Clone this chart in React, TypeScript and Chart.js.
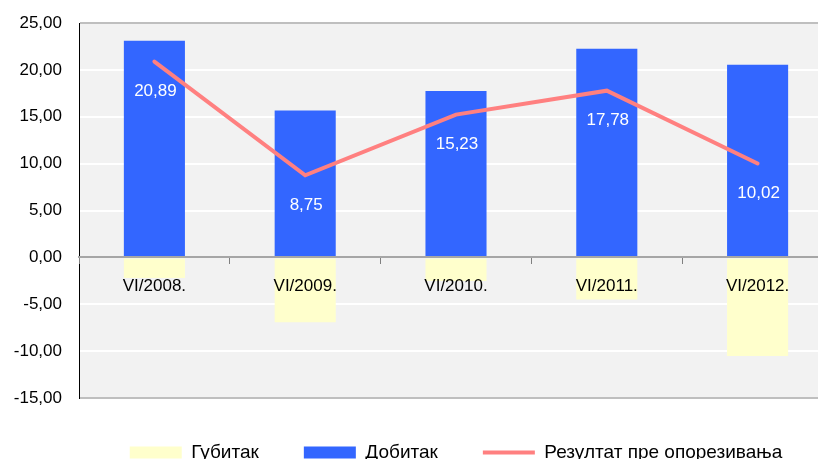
import React, { useEffect, useRef } from 'react';
import { Chart, registerables } from 'chart.js';

Chart.register(...registerables);

const categories = ['VI/2008.', 'VI/2009.', 'VI/2010.', 'VI/2011.', 'VI/2012.'];
const gubitak = [-2.21, -6.91, -2.53, -4.48, -10.52];
const dobitak = [23.1, 15.66, 17.76, 22.26, 20.54];
const rezultat = [20.89, 8.75, 15.23, 17.78, 10.02];
const seriesNames = ['Губитак', 'Добитак', 'Резултат пре опорезивања'];
const yMin = -15;
const yMax = 25;
const yStep = 5;

const FONT = "'Liberation Sans', Arial, sans-serif";
const fmt = (v: number) => v.toFixed(2).replace('.', ',');

const plotBg = {
  id: 'plotBg',
  beforeDraw(chart: any) {
    const { ctx, chartArea: a } = chart;
    ctx.save();
    ctx.fillStyle = '#F2F2F2';
    ctx.fillRect(a.left, a.top, a.right - a.left, a.bottom - a.top);
    ctx.restore();
  },
};

const valueLabels = {
  id: 'valueLabels',
  afterDatasetsDraw(chart: any) {
    const { ctx } = chart;
    const meta = chart.getDatasetMeta(2);
    const data = chart.data.datasets[2].data as number[];
    ctx.save();
    ctx.fillStyle = '#FFFFFF';
    ctx.font = `17px ${FONT}`;
    ctx.textAlign = 'center';
    ctx.textBaseline = 'middle';
    meta.data.forEach((pt: any, i: number) => {
      ctx.fillText(fmt(data[i]), pt.x + 1, pt.y + 30);
    });
    ctx.restore();
  },
};

export default function App() {
  const ref = useRef<HTMLCanvasElement>(null);
  useEffect(() => {
    if (!ref.current) return;
    const chart = new Chart(ref.current, {
      type: 'bar',
      data: {
        labels: categories,
        datasets: [
          {
            type: 'bar',
            label: seriesNames[0],
            data: gubitak,
            backgroundColor: '#FFFFCC',
            borderWidth: 0,
            stack: 'bars',
            pointStyle: 'rect',
            categoryPercentage: 0.405,
            barPercentage: 1,
          } as any,
          {
            type: 'bar',
            label: seriesNames[1],
            data: dobitak,
            backgroundColor: '#3366FF',
            borderWidth: 0,
            stack: 'bars',
            pointStyle: 'rect',
            categoryPercentage: 0.405,
            barPercentage: 1,
          } as any,
          {
            type: 'line',
            label: seriesNames[2],
            data: rezultat,
            borderColor: '#FF8080',
            backgroundColor: '#FF8080',
            borderWidth: 4,
            pointRadius: 0,
            pointHoverRadius: 0,
            pointStyle: 'line',
            tension: 0,
            stack: 'line',
            order: -1,
            borderCapStyle: 'round',
          } as any,
        ],
      },
      options: {
        responsive: false,
        animation: false,
        devicePixelRatio: 1,
        layout: { padding: { left: 0, top: 23, right: 71, bottom: 0 } },
        plugins: {
          tooltip: { enabled: false },
          legend: {
            position: 'bottom',
            fullSize: false,
            labels: {
              usePointStyle: true,
              pointStyleWidth: 52,
              boxHeight: 12,
              padding: 45,
              color: '#000000',
              font: { family: FONT, size: 19 },
              sort: (a: any, b: any) => a.datasetIndex - b.datasetIndex,
            },
          },
        },
        scales: {
          x: {
            stacked: true,
            position: { y: 0 } as any,
            grid: {
              drawOnChartArea: false,
              drawTicks: true,
              tickLength: 6,
              offset: true,
              tickColor: '#808080',
              tickWidth: 1,
              z: 1,
            },
            border: { display: true, color: '#A6A6A6', width: 2, z: 1 },
            ticks: {
              color: '#000000',
              font: { family: FONT, size: 17 },
              padding: 13,
              maxRotation: 0,
              z: 1,
            },
          },
          y: {
            stacked: true,
            min: yMin,
            max: yMax,
            afterFit: (s: any) => {
              s.width = 79;
            },
            grid: {
              drawTicks: true,
              tickLength: 17,
              tickColor: 'rgba(0,0,0,0)',
              lineWidth: 2,
              color: (c: any) => {
                const v = c.tick ? c.tick.value : null;
                if (v === yMax || v === yMin) return '#BFBFBF';
                if (v === 0) return 'rgba(0,0,0,0)';
                return '#FFFFFF';
              },
            },
            border: { display: true, color: '#000000', width: 1 },
            ticks: {
              stepSize: yStep,
              padding: 0,
              color: '#000000',
              font: { family: FONT, size: 17 },
              callback: (v: any) => fmt(Number(v)),
            },
          },
        },
      },
      plugins: [plotBg, valueLabels],
    });
    return () => chart.destroy();
  }, []);

  return (
    <div
      style={{
        position: 'fixed',
        left: 0,
        top: 0,
        width: 818,
        height: 459,
        overflow: 'hidden',
        background: '#FFFFFF',
      }}
    >
      <canvas ref={ref} width={904} height={472} style={{ display: 'block', width: 904, height: 472 }} />
    </div>
  );
}
